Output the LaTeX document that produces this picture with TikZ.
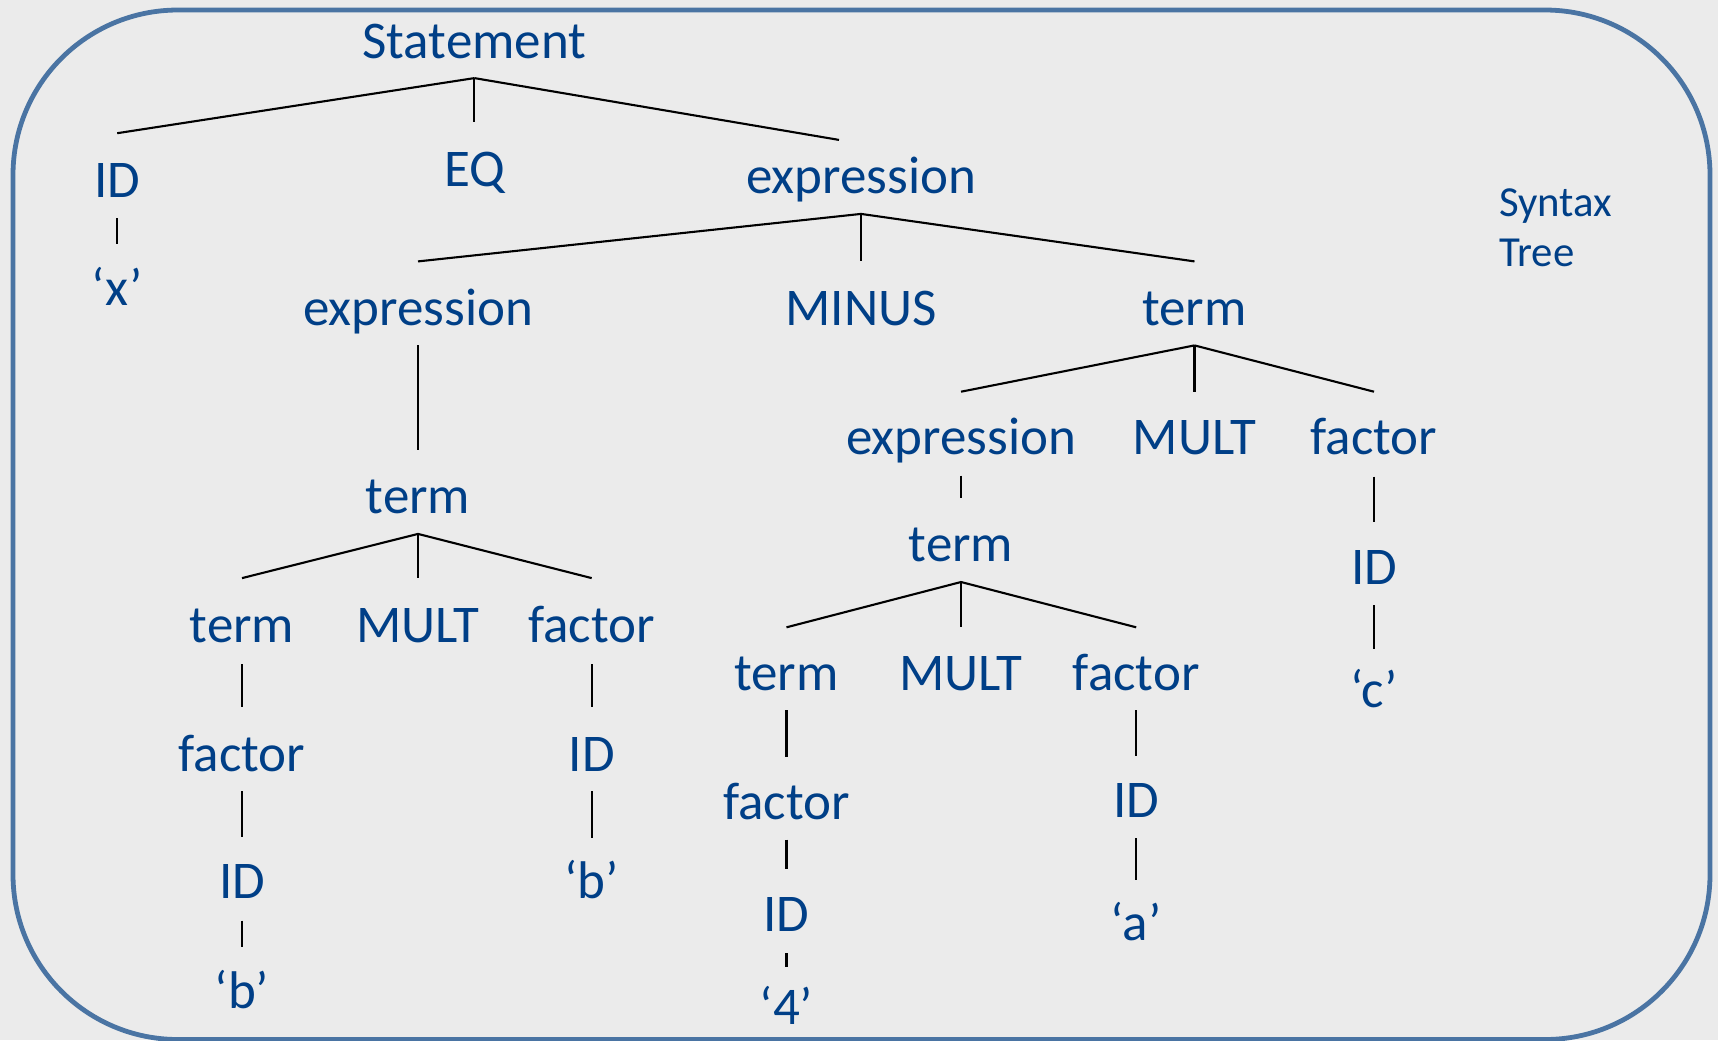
\documentclass[tikz,border=0pt]{standalone}
\usepackage{fontspec}
\setmainfont{Carlito}
\usetikzlibrary{calc}
\definecolor{ink}{HTML}{003F87}
\definecolor{frameblue}{HTML}{4A74A3}
\definecolor{paper}{HTML}{EBEBEB}

\begin{document}
\begin{tikzpicture}[x=0.5pt,y=-0.5pt,
  sym/.style={anchor=base, inner sep=0pt, text=ink, font=\fontsize{26.5}{32}\selectfont},
  note/.style={anchor=base west, inner sep=0pt, text=ink, font=\fontsize{21.4}{26}\selectfont},
  edge/.style={draw=black, line width=1.05pt},
  frame/.style={draw=frameblue, line width=2.4pt, rounded corners=82.5pt}]
% page and rounded frame
\fill[paper] (0,0) rectangle (1718,1040);
\useasboundingbox (0,0) rectangle (1718,1040);
\draw[frame] (13,10) rectangle (1710,1039.5);

% tree symbols
\node[sym] (st)  at (474.4,58.1)  {Statement};
\node[sym] (idx) at (117.2,197.2) {ID};
\node[sym] (eq)  at (474.4,186.3) {EQ};
\node[sym] (ex1) at (861,193.9)   {expression};
\node[sym] (qx)  at (117.2,305.7) {‘x’};

\node[sym] (ex2) at (418,325.4)    {expression};
\node[sym] (mi)  at (861,325.4)    {MINUS};
\node[sym] (tm1) at (1194.5,325.4) {term};

\node[sym] (tm2) at (418,513.9)   {term};
\node[sym] (tm3) at (242,642.1)   {term};
\node[sym] (mu1) at (418,642.1)   {MULT};
\node[sym] (fa1) at (591.7,642.1) {factor};
\node[sym] (fa2) at (242,771.4)   {factor};
\node[sym] (id2) at (591.7,771.4) {ID};
\node[sym] (id3) at (242,898.5)   {ID};
\node[sym] (qb1) at (591.7,898.5) {‘b’};
\node[sym] (qb2) at (242,1008)    {‘b’};

\node[sym] (ex3) at (961,454.7)    {expression};
\node[sym] (mu2) at (1194.5,454.7) {MULT};
\node[sym] (fa3) at (1374,454.7)   {factor};
\node[sym] (tm4) at (961,561)      {term};
\node[sym] (tm5) at (786.5,690.3)  {term};
\node[sym] (mu3) at (961,690.3)    {MULT};
\node[sym] (fa4) at (1136.2,690.3) {factor};
\node[sym] (fa5) at (786.5,819.6)  {factor};
\node[sym] (id4) at (1136.2,817.4) {ID};
\node[sym] (id5) at (786.5,931.3)  {ID};
\node[sym] (qa)  at (1136.2,940.1) {‘a’};
\node[sym] (q4)  at (786.5,1024.5) {‘4’};
\node[sym] (id6) at (1374,584)     {ID};
\node[sym] (qc)  at (1374,707.8)   {‘c’};

% caption
\node[note] (syn1) at (1498.9,216.9) {Syntax};
\node[note] (syn2) at (1498.9,266.3) {Tree};

% branches: from below a parent's baseline to above a child's
\draw[edge] ($(st.base)+(0,20)$) -- ($(idx.base)+(0,-64)$);
\draw[edge] ($(st.base)+(0,20)$) -- ($(eq.base)+(0,-64)$);
\draw[edge] ($(st.base)+(0,20)$) -- ($(ex1.base)+(-22,-54)$);
\draw[edge] ($(idx.base)+(0,21)$) -- ($(qx.base)+(0,-62)$);

\draw[edge] ($(ex1.base)+(0,20)$) -- ($(ex2.base)+(0,-64)$);
\draw[edge] ($(ex1.base)+(0,20)$) -- ($(mi.base)+(0,-64)$);
\draw[edge] ($(ex1.base)+(0,20)$) -- ($(tm1.base)+(0,-64)$);

\draw[edge] ($(ex2.base)+(0,20)$) -- ($(tm2.base)+(0,-64)$);
\draw[edge] ($(tm2.base)+(0,20)$) -- ($(tm3.base)+(0,-64)$);
\draw[edge] ($(tm2.base)+(0,20)$) -- ($(mu1.base)+(0,-64)$);
\draw[edge] ($(tm2.base)+(0,20)$) -- ($(fa1.base)+(0,-64)$);
\draw[edge] ($(tm3.base)+(0,22)$) -- ($(fa2.base)+(0,-64)$);
\draw[edge] ($(fa2.base)+(0,20)$) -- ($(id3.base)+(0,-62)$);
\draw[edge] ($(id3.base)+(0,22)$) -- ($(qb2.base)+(0,-61)$);
\draw[edge] ($(fa1.base)+(0,22)$) -- ($(id2.base)+(0,-64)$);
\draw[edge] ($(id2.base)+(0,20)$) -- ($(qb1.base)+(0,-61)$);

\draw[edge] ($(tm1.base)+(0,20)$) -- ($(ex3.base)+(0,-63)$);
\draw[edge] ($(tm1.base)+(0,20)$) -- ($(mu2.base)+(0,-63)$);
\draw[edge] ($(tm1.base)+(0,20)$) -- ($(fa3.base)+(0,-63)$);
\draw[edge] ($(ex3.base)+(0,21)$) -- ($(tm4.base)+(0,-63)$);
\draw[edge] ($(tm4.base)+(0,21)$) -- ($(tm5.base)+(0,-63)$);
\draw[edge] ($(tm4.base)+(0,21)$) -- ($(mu3.base)+(0,-63)$);
\draw[edge] ($(tm4.base)+(0,21)$) -- ($(fa4.base)+(0,-63)$);
\draw[edge] ($(tm5.base)+(0,20)$) -- ($(fa5.base)+(0,-63)$);
\draw[edge] ($(fa5.base)+(0,20)$) -- ($(id5.base)+(0,-62)$);
\draw[edge] ($(id5.base)+(0,22)$) -- ($(q4.base)+(0,-58)$);
\draw[edge] ($(fa4.base)+(0,20)$) -- ($(id4.base)+(0,-61)$);
\draw[edge] ($(id4.base)+(0,21)$) -- ($(qa.base)+(0,-60)$);
\draw[edge] ($(fa3.base)+(0,22)$) -- ($(id6.base)+(0,-62)$);
\draw[edge] ($(id6.base)+(0,21)$) -- ($(qc.base)+(0,-59)$);
\end{tikzpicture}
\end{document}
